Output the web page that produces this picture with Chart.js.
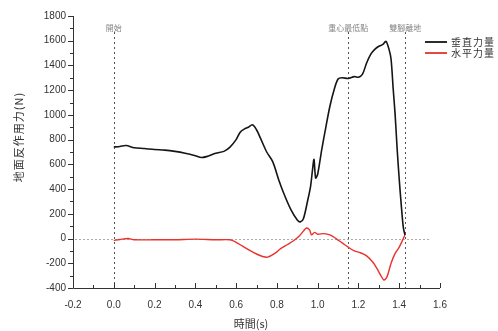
<!DOCTYPE html>
<html><head><meta charset="utf-8">
<script src="https://cdn.jsdelivr.net/npm/chart.js@4"></script>
<style>html,body{margin:0;padding:0;background:#fff}#wrap{width:498px;height:331px}</style>
</head><body><div id="wrap"><canvas id="c" width="498" height="331"></canvas></div>
<script>
// ---- data ----
const verticalTimes = [0, 0.03, 0.06, 0.1, 0.15, 0.2, 0.25, 0.3, 0.35, 0.4, 0.43, 0.46, 0.5, 0.54, 0.57, 0.6, 0.62, 0.64, 0.66, 0.68, 0.7, 0.72, 0.75, 0.78, 0.81, 0.84, 0.87, 0.9, 0.915, 0.93, 0.95, 0.965, 0.975, 0.982, 0.99, 1.0, 1.02, 1.04, 1.06, 1.08, 1.1, 1.12, 1.15, 1.18, 1.2, 1.22, 1.24, 1.26, 1.28, 1.3, 1.32, 1.335, 1.35, 1.36, 1.37, 1.38, 1.39, 1.4, 1.41, 1.42, 1.428];
const verticalForce = [740, 745, 752, 735, 728, 720, 715, 705, 690, 670, 655, 665, 690, 705, 740, 800, 860, 885, 900, 920, 880, 810, 700, 620, 470, 340, 230, 150, 135, 160, 300, 420, 560, 640, 490, 520, 720, 900, 1070, 1200, 1290, 1300, 1295, 1310, 1305, 1330, 1420, 1490, 1530, 1555, 1570, 1595, 1530, 1450, 1220, 1000, 720, 480, 270, 90, 30];
const horizontalTimes = [0, 0.03, 0.07, 0.1, 0.2, 0.3, 0.4, 0.5, 0.57, 0.6, 0.63, 0.66, 0.7, 0.73, 0.755, 0.79, 0.82, 0.85, 0.88, 0.91, 0.93, 0.945, 0.96, 0.97, 0.985, 1.0, 1.03, 1.06, 1.09, 1.12, 1.15, 1.18, 1.21, 1.24, 1.27, 1.29, 1.31, 1.325, 1.34, 1.36, 1.38, 1.4, 1.42, 1.43];
const horizontalForce = [-15, -8, 0, -10, -10, -10, -5, -10, -10, -30, -60, -90, -125, -145, -150, -120, -80, -50, -20, 20, 60, 85, 70, 30, 50, 35, 40, 30, 0, -35, -70, -100, -115, -140, -190, -240, -300, -335, -310, -200, -120, -70, 0, 40];
const seriesLabels = ['垂直力量', '水平力量'];
const xTicks = [-0.2, 0.0, 0.2, 0.4, 0.6, 0.8, 1.0, 1.2, 1.4, 1.6];
const yTicks = [-400, -200, 0, 200, 400, 600, 800, 1000, 1200, 1400, 1600, 1800];
const markerTimes = [0, 1.15, 1.43];
const markerLabels = ['開始', '重心最低點', '雙腳離地'];
const xTitle = '時間(s)';
const yTitle = '地面反作用力(N)';

const toPts = (xs, ys) => xs.map((x, i) => ({x, y: ys[i]}));
const CJK = '"Noto Sans CJK TC", "Noto Sans CJK SC", sans-serif';

const decor = {
  id: 'decor',
  beforeDatasetsDraw(chart) {
    const {ctx, chartArea: a, scales: {x, y}} = chart;
    ctx.save();
    ctx.strokeStyle = '#aaa'; ctx.lineWidth = 1; ctx.setLineDash([2, 2]);
    const y0 = Math.round(y.getPixelForValue(0)) + 0.5;
    ctx.beginPath(); ctx.moveTo(x.getPixelForValue(-0.19), y0); ctx.lineTo(x.getPixelForValue(1.55), y0); ctx.stroke();
    ctx.strokeStyle = '#555'; ctx.setLineDash([2, 3]);
    markerTimes.forEach((t) => {
      const px = Math.round(x.getPixelForValue(t)) + 0.5;
      ctx.beginPath(); ctx.moveTo(px, 32); ctx.lineTo(px, a.bottom); ctx.stroke();
    });
    ctx.setLineDash([]);
    ctx.fillStyle = '#888'; ctx.font = '8px ' + CJK; ctx.textAlign = 'center'; ctx.textBaseline = 'middle';
    markerTimes.forEach((t, i) => {
      ctx.fillText(markerLabels[i], x.getPixelForValue(t), 28);
    });
    ctx.restore();
  },
  afterDraw(chart) {
    const {ctx, chartArea: a, scales: {x, y}} = chart;
    ctx.save();
    ctx.strokeStyle = '#333'; ctx.lineWidth = 1;
    ctx.beginPath();
    ctx.moveTo(a.left + 0.5, a.top); ctx.lineTo(a.left + 0.5, a.bottom + 0.5);
    ctx.lineTo(a.right, a.bottom + 0.5); ctx.stroke();
    for (let v = -400; v <= 1800; v += 100) {
      const py = Math.round(y.getPixelForValue(v)) + 0.5;
      const len = v % 200 === 0 ? 5 : 3;
      ctx.beginPath(); ctx.moveTo(a.left - len, py); ctx.lineTo(a.left, py); ctx.stroke();
    }
    for (let k = -2; k <= 16; k++) {
      const px = Math.round(x.getPixelForValue(k / 10)) + 0.5;
      const len = k % 2 === 0 ? 5 : 3;
      ctx.beginPath(); ctx.moveTo(px, a.bottom); ctx.lineTo(px, a.bottom - len); ctx.stroke();
    }
    ctx.fillStyle = '#333';
    ctx.font = '11px ' + CJK;
    ctx.textAlign = 'center'; ctx.textBaseline = 'middle';
    ctx.fillText(xTitle, 251, 324);
    ctx.save();
    ctx.translate(19, 137); ctx.rotate(-Math.PI / 2);
    ctx.letterSpacing = '1px';
    ctx.fillText(yTitle, 0, 0);
    ctx.restore();
    const ds = chart.data.datasets;
    ctx.font = '10px ' + CJK; ctx.textAlign = 'left'; ctx.letterSpacing = '1px';
    ds.forEach((d, i) => {
      const ly = 42 + i * 11;
      ctx.strokeStyle = d.borderColor; ctx.lineWidth = 1.8;
      ctx.beginPath(); ctx.moveTo(425, ly); ctx.lineTo(447, ly); ctx.stroke();
      ctx.fillStyle = '#333';
      ctx.fillText(d.label, 451, ly);
    });
    ctx.restore();
  }
};

new Chart(document.getElementById('c'), {
  type: 'line',
  data: {
    datasets: [
      {label: seriesLabels[0], data: toPts(verticalTimes, verticalForce), borderColor: '#151515', borderWidth: 1.6, pointRadius: 0, tension: 0.3, fill: false},
      {label: seriesLabels[1], data: toPts(horizontalTimes, horizontalForce), borderColor: '#e8322b', borderWidth: 1.4, pointRadius: 0, tension: 0.3, fill: false}
    ]
  },
  options: {
    responsive: false, animation: false, devicePixelRatio: 1,
    layout: {padding: {left: 0, right: 58, top: 16, bottom: 0}},
    plugins: {legend: {display: false}, tooltip: {enabled: false}},
    scales: {
      x: {
        type: 'linear', min: -0.2, max: 1.6,
        afterBuildTicks: s => { s.ticks = xTicks.map(v => ({value: v})); },
        afterFit: s => { s.height = 43; },
        grid: {display: false, drawTicks: false}, border: {display: false},
        ticks: {padding: 11, color: '#333', font: {family: 'Liberation Sans', size: 10}, callback: v => v.toFixed(1), maxRotation: 0, autoSkip: false}
      },
      y: {
        type: 'linear', min: -400, max: 1800,
        afterBuildTicks: s => { s.ticks = yTicks.map(v => ({value: v})); },
        afterFit: s => { s.width = 73; },
        grid: {display: false, drawTicks: false}, border: {display: false},
        ticks: {padding: 7, color: '#333', font: {family: 'Liberation Sans', size: 10}, callback: v => String(v), autoSkip: false}
      }
    }
  },
  plugins: [decor]
});
</script></body></html>
